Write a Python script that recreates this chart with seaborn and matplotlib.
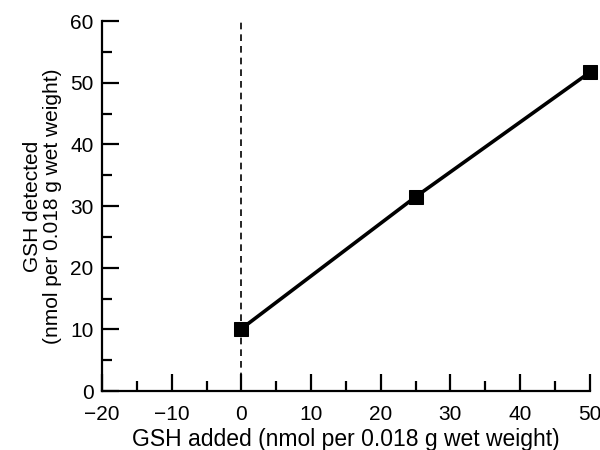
import matplotlib
matplotlib.use('Agg')
import matplotlib.pyplot as plt
from matplotlib.ticker import MultipleLocator
import seaborn as sns
import pandas as pd

# values
gsh_added = [0, 25, 50]
gsh_detected = [10.1, 31.5, 51.7]

sns.set_style('ticks', {'axes.edgecolor': 'black', 'text.color': 'black',
                        'axes.labelcolor': 'black', 'xtick.color': 'black',
                        'ytick.color': 'black'})
plt.rcParams['font.family'] = ['Liberation Sans', 'DejaVu Sans']

df = pd.DataFrame({'added': gsh_added, 'detected': gsh_detected})

fig = plt.figure(figsize=(6, 4.5), dpi=100)
ax = fig.add_axes([0.17, 0.131, 0.813, 0.822])

ax.axvline(0, color='black', linestyle=(0, (4, 3)), linewidth=1.2, zorder=1)
sns.lineplot(data=df, x='added', y='detected', ax=ax, color='black',
             linewidth=2.6, marker='s', markersize=10, markeredgecolor='black',
             zorder=3, clip_on=False)

ax.set_xlim(-20, 50)
ax.set_ylim(0, 60)
ax.xaxis.set_major_locator(MultipleLocator(10))
ax.xaxis.set_minor_locator(MultipleLocator(5))
ax.yaxis.set_major_locator(MultipleLocator(10))
ax.yaxis.set_minor_locator(MultipleLocator(5))
ax.tick_params(which='major', direction='in', length=12, width=1.6, labelsize=15)
ax.tick_params(which='minor', direction='in', length=7, width=1.6)
ax.tick_params(axis='x', which='major', pad=10)
ax.tick_params(axis='y', which='major', pad=6)
for s in ['left', 'bottom']:
    ax.spines[s].set_linewidth(1.6)
sns.despine(ax=ax)

ax.set_xlabel('GSH added (nmol per 0.018 g wet weight)', fontsize=16.5, labelpad=3)
ax.set_ylabel('GSH detected\n(nmol per 0.018 g wet weight)', fontsize=15,
              linespacing=1.05, labelpad=6)

fig.savefig('out.png', dpi=100)
